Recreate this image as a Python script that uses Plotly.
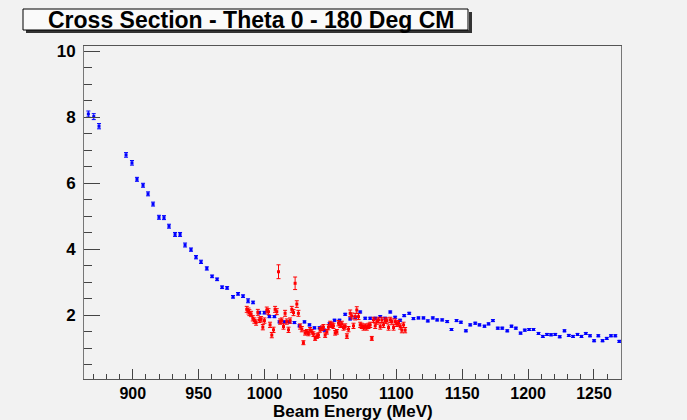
import plotly.graph_objects as go

# ---- data ----
blue_E = [866.3, 870.4, 874.4, 894.9, 899.4, 903.2, 907.8, 911.6, 915.4, 919.9,
          923.7, 927.5, 932.1, 935.9, 939.7, 944.2, 948.0, 951.8, 956.2, 960.2,
          964.0, 967.8, 971.6, 976.1, 979.9, 983.7, 987.5, 991.3, 996.1, 999.9,
          1003.7, 1007.5, 1011.3, 1015.1, 1018.9, 1022.7, 1026.5, 1030.3, 1034.1, 1037.9,
          1041.7, 1045.5, 1049.3, 1053.1, 1056.9, 1061.2, 1065.0, 1068.8, 1072.6, 1076.4,
          1080.2, 1084.0, 1087.8, 1091.6, 1095.4, 1099.1, 1102.9, 1106.0, 1109.8, 1113.0,
          1116.8, 1120.6, 1123.9, 1127.7, 1131.0, 1134.8, 1138.6, 1141.9, 1145.7, 1149.0,
          1152.8, 1156.1, 1159.9, 1163.1, 1166.9, 1170.0, 1173.3, 1177.0, 1180.4, 1184.2,
          1187.4, 1190.7, 1194.3, 1197.5, 1200.8, 1204.1, 1207.9, 1211.2, 1214.3, 1217.4,
          1220.6, 1224.0, 1227.6, 1230.9, 1234.1, 1237.5, 1240.5, 1243.8, 1247.0, 1250.1,
          1253.3, 1256.5, 1259.7, 1262.9, 1266.2, 1269.2]
blue_xs = [8.10, 8.02, 7.73, 6.86, 6.62, 6.12, 5.94, 5.68, 5.37, 4.97,
           4.96, 4.70, 4.45, 4.45, 4.13, 3.99, 3.76, 3.62, 3.42, 3.18,
           3.09, 2.85, 2.83, 2.56, 2.65, 2.58, 2.44, 2.39, 2.08, 2.08,
           1.96, 1.96, 1.80, 1.80, 1.80, 1.78, 1.68, 1.80, 1.71, 1.62,
           1.62, 1.55, 1.74, 1.85, 1.85, 2.03, 1.89, 1.94, 2.10, 1.91,
           1.91, 1.91, 1.96, 1.91, 2.10, 1.94, 1.85, 1.99, 2.06, 1.90,
           1.92, 1.92, 1.83, 1.92, 1.86, 1.86, 1.81, 1.57, 1.84, 1.79,
           1.53, 1.71, 1.76, 1.71, 1.67, 1.74, 1.84, 1.61, 1.61, 1.53,
           1.67, 1.61, 1.46, 1.55, 1.57, 1.57, 1.45, 1.36, 1.42, 1.41,
           1.42, 1.35, 1.53, 1.39, 1.36, 1.42, 1.36, 1.45, 1.38, 1.23,
           1.38, 1.23, 1.30, 1.38, 1.38, 1.21]
blue_err = [0.09, 0.09, 0.08, 0.07, 0.07, 0.06, 0.06, 0.06, 0.06, 0.06,
            0.06, 0.06, 0.06, 0.06, 0.06, 0.05, 0.05, 0.05, 0.05, 0.04,
            0.04, 0.04, 0.04, 0.04, 0.04, 0.04, 0.06, 0.04, 0.04, 0.04,
            0.03, 0.03, 0.03, 0.03, 0.03, 0.03, 0.03, 0.03, 0.03, 0.03,
            0.03, 0.03, 0.03, 0.03, 0.03, 0.03, 0.03, 0.03, 0.03, 0.03,
            0.03, 0.03, 0.03, 0.03, 0.03, 0.03, 0.03, 0.03, 0.03, 0.03,
            0.03, 0.03, 0.03, 0.03, 0.03, 0.03, 0.03, 0.03, 0.03, 0.03,
            0.03, 0.03, 0.03, 0.03, 0.03, 0.03, 0.03, 0.03, 0.03, 0.03,
            0.03, 0.03, 0.03, 0.03, 0.03, 0.03, 0.03, 0.03, 0.03, 0.03,
            0.03, 0.03, 0.03, 0.03, 0.03, 0.03, 0.03, 0.03, 0.03, 0.03,
            0.03, 0.03, 0.03, 0.03, 0.03, 0.03]

red_E = [986.5, 987.8, 988.5, 989.8, 991.1, 992.3, 993.6, 994.9, 996.1, 997.4,
         998.7, 999.9, 1001.7, 1003.0, 1004.2, 1005.5, 1006.8, 1008.0, 1009.3, 1010.6,
         1011.8, 1013.1, 1014.4, 1015.6, 1016.9, 1018.2, 1019.4, 1020.7, 1022.0, 1023.2,
         1024.5, 1025.7, 1027.0, 1028.3, 1029.5, 1030.8, 1032.1, 1033.3, 1034.6, 1035.9,
         1037.1, 1038.4, 1039.7, 1040.9, 1042.2, 1043.5, 1044.7, 1046.0, 1047.3, 1048.5,
         1049.8, 1051.1, 1052.3, 1053.6, 1054.9, 1056.1, 1057.4, 1058.7, 1059.9, 1061.2,
         1062.5, 1063.7, 1065.0, 1066.2, 1067.5, 1068.8, 1070.0, 1071.3, 1072.6, 1073.8,
         1075.1, 1076.4, 1077.6, 1078.9, 1080.2, 1081.4, 1082.7, 1084.0, 1085.2, 1086.5,
         1087.8, 1089.0, 1090.3, 1091.6, 1092.8, 1094.1, 1095.4, 1096.6, 1097.9, 1099.2,
         1100.4, 1101.7, 1103.0, 1104.2, 1105.5, 1106.7]
red_xs = [2.18, 2.13, 2.08, 2.04, 1.91, 1.84, 1.78, 2.09, 1.86, 1.88,
          1.64, 1.84, 2.16, 2.11, 1.71, 1.40, 1.56, 2.18, 2.11, 3.32,
          1.81, 1.84, 1.66, 2.06, 1.81, 1.56, 1.84, 2.18, 2.08, 2.97,
          2.34, 2.06, 1.66, 1.58, 1.17, 1.47, 1.50, 1.45, 1.56, 1.50,
          1.43, 1.30, 1.37, 1.40, 1.56, 1.61, 1.64, 1.40, 1.50, 1.64,
          1.74, 1.71, 1.68, 1.47, 1.50, 1.76, 1.71, 1.74, 1.63, 1.66,
          1.37, 1.58, 2.06, 1.98, 1.68, 1.96, 2.16, 1.96, 1.71, 1.68,
          1.63, 1.66, 1.63, 1.68, 1.71, 1.30, 1.86, 1.68, 1.81, 1.86,
          1.66, 1.86, 1.71, 1.84, 1.84, 1.63, 1.86, 1.81, 1.63, 1.81,
          1.74, 1.76, 1.66, 1.55, 1.71, 1.55]
red_err = [0.09, 0.09, 0.09, 0.08, 0.08, 0.08, 0.08, 0.09, 0.08, 0.08,
           0.08, 0.08, 0.09, 0.09, 0.08, 0.08, 0.08, 0.09, 0.09, 0.21,
           0.08, 0.08, 0.08, 0.09, 0.08, 0.08, 0.08, 0.09, 0.09, 0.19,
           0.10, 0.09, 0.08, 0.08, 0.06, 0.07, 0.07, 0.07, 0.07, 0.07,
           0.07, 0.06, 0.07, 0.07, 0.07, 0.07, 0.08, 0.07, 0.07, 0.08,
           0.08, 0.08, 0.08, 0.07, 0.07, 0.08, 0.08, 0.08, 0.08, 0.08,
           0.07, 0.08, 0.10, 0.09, 0.08, 0.10, 0.10, 0.09, 0.08, 0.08,
           0.08, 0.08, 0.08, 0.08, 0.08, 0.06, 0.08, 0.08, 0.08, 0.08,
           0.08, 0.08, 0.08, 0.08, 0.08, 0.08, 0.08, 0.08, 0.08, 0.08,
           0.08, 0.08, 0.08, 0.08, 0.08, 0.08]

title_text = "Cross Section - Theta 0 - 180 Deg CM"
x_title = "Beam Energy (MeV)"

FONT = "Liberation Sans, Arial, sans-serif"
BG = "#f2f2f2"

fig = go.Figure()
fig.add_trace(go.Scatter(
    x=blue_E, y=blue_xs, mode="markers",
    marker=dict(symbol="square", size=3, color="#0000ff"),
    error_y=dict(type="data", array=blue_err, color="#0000ff", thickness=1, width=2),
    showlegend=False))
fig.add_trace(go.Scatter(
    x=red_E, y=red_xs, mode="markers",
    marker=dict(symbol="square", size=3, color="#ff0000"),
    error_y=dict(type="data", array=red_err, color="#ff0000", thickness=1, width=2),
    showlegend=False))

fig.update_layout(
    width=687, height=420,
    margin=dict(l=84, r=66, t=46, b=41),
    paper_bgcolor=BG, plot_bgcolor=BG,
    font=dict(family=FONT, color="#000000"),
    xaxis=dict(range=[863, 1270.5], showgrid=False, zeroline=False, automargin=False,
               dtick=50, tick0=0, ticks="inside", ticklen=10, tickcolor="#444",
               minor=dict(dtick=10, ticks="inside", ticklen=5, tickcolor="#444"),
               showline=True, linecolor="#555", linewidth=1, mirror=True,
               tickfont=dict(size=16, family=FONT, weight="bold"),
               ticklabelstandoff=0),
    yaxis=dict(range=[0.07, 10.16], showgrid=False, zeroline=False, automargin=False,
               dtick=2, tick0=0, ticks="inside", ticklen=16, tickcolor="#444",
               minor=dict(dtick=0.5, ticks="inside", ticklen=8, tickcolor="#444"),
               showline=True, linecolor="#777", linewidth=1, mirror=True,
               tickfont=dict(size=17, family=FONT, weight="bold"),
               ticklabelstandoff=4),
)

# x axis title
fig.add_annotation(xref="paper", yref="paper",
                   x=0.5, y=(379 - 411) / 333,
                   text=x_title, showarrow=False,
                   font=dict(size=17, family=FONT, weight="bold", color="#000"),
                   xanchor="center", yanchor="middle")

# title box with shadow
fig.add_shape(type="rect", xref="paper", yref="paper",
              x0=(469 - 84) / 537, x1=(472 - 84) / 537,
              y0=(379 - 33) / 333, y1=(379 - 12) / 333,
              fillcolor="#333333", line=dict(width=0), layer="above")
fig.add_shape(type="rect", xref="paper", yref="paper",
              x0=(26 - 84) / 537, x1=(472 - 84) / 537,
              y0=(379 - 33) / 333, y1=(379 - 30) / 333,
              fillcolor="#333333", line=dict(width=0), layer="above")
fig.add_shape(type="rect", xref="paper", yref="paper",
              x0=(23 - 84) / 537, x1=(468 - 84) / 537,
              y0=(379 - 30) / 333, y1=(379 - 9) / 333,
              fillcolor="#fafafa", line=dict(color="#000000", width=1), layer="above")
fig.add_annotation(xref="paper", yref="paper",
                   x=(251 - 84) / 537, y=(379 - 20) / 333,
                   text=title_text, showarrow=False,
                   font=dict(size=23, family=FONT, weight="bold", color="#000"),
                   xanchor="center", yanchor="middle")

fig.write_html("out.html")
